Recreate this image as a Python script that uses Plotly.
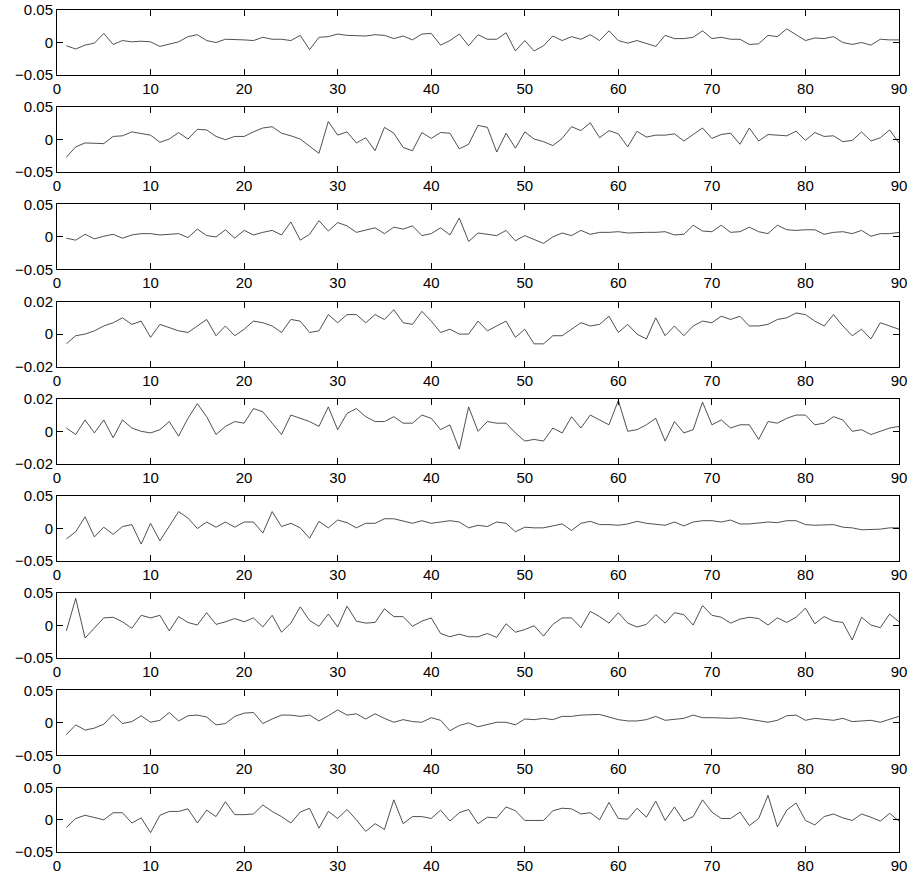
import plotly.graph_objects as go

x_vals = list(range(1, 91))

s1 = [-0.005, -0.01, -0.004, -0.001, 0.014, -0.003, 0.003, 0.001, 0.002, 0.001,
      -0.006, -0.002, 0.001, 0.009, 0.012, 0.003, 0.0, 0.005, 0.005, 0.004,
      0.003, 0.008, 0.005, 0.005, 0.003, 0.011, -0.011, 0.008, 0.009, 0.013,
      0.011, 0.01, 0.01, 0.012, 0.011, 0.006, 0.01, 0.004, 0.013, 0.014,
      -0.004, 0.003, 0.013, -0.005, 0.012, 0.005, 0.005, 0.015, -0.013, 0.003,
      -0.013, -0.005, 0.01, 0.003, 0.009, 0.005, 0.012, 0.003, 0.018, 0.003,
      -0.001, 0.003, -0.002, -0.006, 0.011, 0.006, 0.006, 0.008, 0.018, 0.006,
      0.008, 0.005, 0.005, -0.003, -0.002, 0.011, 0.009, 0.021, 0.012, 0.003,
      0.007, 0.006, 0.009, 0.0, -0.003, 0.0, -0.004, 0.005, 0.004, 0.004]

s2 = [-0.027, -0.011, -0.005, -0.005, -0.006, 0.005, 0.006, 0.012, 0.01, 0.007,
      -0.004, 0.001, 0.011, 0.001, 0.016, 0.015, 0.005, 0.0, 0.005, 0.005,
      0.012, 0.018, 0.02, 0.01, 0.006, 0.001, -0.01, -0.021, 0.028, 0.007,
      0.012, -0.005, 0.003, -0.017, 0.019, 0.01, -0.012, -0.017, 0.011, 0.002,
      0.011, 0.01, -0.014, -0.007, 0.022, 0.019, -0.019, 0.01, -0.013, 0.012,
      0.001, -0.003, -0.009, 0.002, 0.02, 0.014, 0.026, 0.003, 0.014, 0.009,
      -0.011, 0.013, 0.004, 0.007, 0.007, 0.009, -0.002, 0.008, 0.018, 0.002,
      0.008, 0.01, -0.007, 0.018, -0.002, 0.008, 0.007, 0.006, 0.013, -0.001,
      0.011, 0.005, 0.006, -0.003, -0.001, 0.012, -0.002, 0.003, 0.015, -0.005]

s3 = [-0.002, -0.005, 0.004, -0.003, 0.001, 0.004, -0.002, 0.003, 0.005, 0.005,
      0.003, 0.004, 0.005, -0.001, 0.012, 0.002, 0.0, 0.011, -0.002, 0.01,
      0.003, 0.007, 0.01, 0.003, 0.023, -0.005, 0.004, 0.025, 0.009, 0.022,
      0.017, 0.007, 0.01, 0.014, 0.005, 0.015, 0.012, 0.017, 0.002, 0.005,
      0.014, 0.003, 0.029, -0.007, 0.006, 0.004, 0.002, 0.01, -0.006, 0.002,
      -0.004, -0.01, 0.0, 0.006, 0.002, 0.01, 0.004, 0.007, 0.007, 0.008,
      0.006, 0.007, 0.007, 0.007, 0.008, 0.003, 0.004, 0.018, 0.009, 0.008,
      0.018, 0.007, 0.008, 0.015, 0.008, 0.005, 0.018, 0.011, 0.01, 0.011,
      0.011, 0.004, 0.007, 0.008, 0.005, 0.01, 0.001, 0.005, 0.005, 0.007]

s4 = [-0.006, -0.001, 0.0, 0.002, 0.005, 0.007, 0.01, 0.006, 0.008, -0.002,
      0.006, 0.004, 0.002, 0.001, 0.005, 0.009, -0.001, 0.005, -0.001, 0.003,
      0.008, 0.007, 0.005, 0.001, 0.009, 0.008, 0.001, 0.002, 0.012, 0.007,
      0.012, 0.012, 0.007, 0.012, 0.009, 0.015, 0.007, 0.006, 0.014, 0.008,
      0.001, 0.003, 0.0, 0.0, 0.008, 0.002, 0.005, 0.008, -0.002, 0.003,
      -0.006, -0.006, -0.001, -0.001, 0.003, 0.007, 0.005, 0.006, 0.011, 0.001,
      0.006, 0.0, -0.003, 0.01, -0.001, 0.005, -0.001, 0.005, 0.008, 0.007,
      0.011, 0.009, 0.011, 0.005, 0.005, 0.006, 0.009, 0.01, 0.013, 0.012,
      0.008, 0.005, 0.012, 0.005, -0.001, 0.003, -0.003, 0.007, 0.005, 0.003]

s5 = [0.002, -0.002, 0.007, -0.001, 0.007, -0.004, 0.007, 0.002, 0.0, -0.001,
      0.001, 0.006, -0.003, 0.008, 0.017, 0.009, -0.002, 0.003, 0.006, 0.005,
      0.014, 0.012, 0.005, -0.002, 0.01, 0.008, 0.006, 0.003, 0.015, 0.001,
      0.011, 0.014, 0.009, 0.006, 0.006, 0.009, 0.005, 0.005, 0.01, 0.008,
      0.001, 0.004, -0.011, 0.015, 0.0, 0.006, 0.005, 0.005, -0.001, -0.006,
      -0.005, -0.006, 0.002, -0.001, 0.009, 0.002, 0.01, 0.007, 0.004, 0.019,
      0.0, 0.001, 0.004, 0.008, -0.006, 0.006, -0.001, 0.001, 0.018, 0.004,
      0.007, 0.002, 0.004, 0.004, -0.005, 0.006, 0.005, 0.008, 0.01, 0.01,
      0.004, 0.005, 0.009, 0.007, 0.0, 0.001, -0.002, 0.0, 0.002, 0.003]

s6 = [-0.016, -0.005, 0.018, -0.013, 0.002, -0.009, 0.003, 0.006, -0.024, 0.008,
      -0.019, 0.003, 0.026, 0.016, 0.0, 0.01, 0.002, 0.01, 0.002, 0.01,
      0.01, -0.007, 0.026, 0.003, 0.008, 0.001, -0.015, 0.011, 0.001, 0.013,
      0.009, 0.001, 0.008, 0.008, 0.015, 0.015, 0.011, 0.008, 0.012, 0.008,
      0.01, 0.012, 0.01, 0.001, 0.005, 0.003, 0.01, 0.008, -0.005, 0.002,
      0.001, 0.001, 0.004, 0.007, -0.003, 0.008, 0.011, 0.006, 0.006, 0.005,
      0.007, 0.011, 0.008, 0.006, 0.005, 0.01, 0.004, 0.01, 0.012, 0.012,
      0.01, 0.013, 0.007, 0.007, 0.008, 0.01, 0.009, 0.012, 0.012, 0.006,
      0.005, 0.005, 0.006, 0.002, 0.001, -0.002, -0.002, -0.001, 0.001, 0.001]

s7 = [-0.008, 0.042, -0.019, -0.003, 0.012, 0.013, 0.006, -0.004, 0.016, 0.012,
      0.016, -0.008, 0.014, 0.005, 0.001, 0.02, 0.002, 0.006, 0.011, 0.006,
      0.012, -0.002, 0.016, -0.01, 0.004, 0.029, 0.008, -0.001, 0.018, -0.002,
      0.03, 0.007, 0.004, 0.005, 0.026, 0.014, 0.014, -0.001, 0.007, 0.012,
      -0.012, -0.017, -0.013, -0.017, -0.017, -0.012, -0.018, 0.003, -0.01, -0.006,
      0.0, -0.016, 0.002, 0.012, 0.012, -0.003, 0.022, 0.014, 0.004, 0.02,
      0.004, -0.002, 0.002, 0.017, 0.004, 0.02, 0.017, 0.001, 0.031, 0.016,
      0.013, 0.004, 0.01, 0.013, 0.011, 0.001, 0.012, 0.005, 0.013, 0.027,
      0.003, 0.014, 0.007, 0.005, -0.022, 0.013, 0.001, -0.003, 0.018, 0.006]

s8 = [-0.018, -0.003, -0.011, -0.008, -0.002, 0.013, -0.001, 0.002, 0.011, 0.001,
      0.004, 0.016, 0.003, 0.011, 0.012, 0.009, -0.003, -0.001, 0.01, 0.015,
      0.016, -0.001, 0.006, 0.012, 0.012, 0.01, 0.012, 0.003, 0.011, 0.02,
      0.012, 0.014, 0.006, 0.014, 0.007, 0.001, 0.005, 0.002, 0.001, 0.008,
      0.004, -0.012, -0.004, 0.0, -0.006, -0.002, 0.001, 0.001, -0.003, 0.006,
      0.005, 0.007, 0.005, 0.01, 0.01, 0.012, 0.012, 0.013, 0.009, 0.005,
      0.003, 0.003, 0.005, 0.01, 0.004, 0.005, 0.007, 0.012, 0.008, 0.008,
      0.007, 0.007, 0.008, 0.006, 0.004, 0.001, 0.004, 0.011, 0.012, 0.004,
      0.007, 0.006, 0.004, 0.007, 0.002, 0.003, 0.004, 0.001, 0.005, 0.01]

s9 = [-0.012, 0.002, 0.007, 0.004, 0.0, 0.011, 0.011, -0.005, 0.003, -0.02,
      0.007, 0.013, 0.013, 0.017, -0.005, 0.015, 0.005, 0.028, 0.008, 0.008,
      0.009, 0.023, 0.013, 0.005, -0.005, 0.012, 0.018, -0.013, 0.013, 0.002,
      0.016, 0.0, -0.018, -0.006, -0.015, 0.031, -0.006, 0.005, 0.005, 0.002,
      0.015, -0.002, 0.011, 0.016, -0.006, 0.004, 0.003, 0.02, 0.014, -0.001,
      -0.001, -0.001, 0.014, 0.018, 0.017, 0.009, 0.011, 0.0, 0.027, 0.002,
      0.001, 0.018, 0.004, 0.029, -0.001, 0.02, -0.002, 0.005, 0.031, 0.012,
      0.002, 0.002, 0.012, -0.009, 0.002, 0.038, -0.011, 0.015, 0.026, -0.001,
      -0.008, 0.005, 0.009, 0.003, -0.001, 0.009, 0.004, -0.002, 0.01, -0.002]

series = [s1, s2, s3, s4, s5, s6, s7, s8, s9]
y_limits = [0.05, 0.05, 0.05, 0.02, 0.02, 0.05, 0.05, 0.05, 0.05]
y_ticktext = {0.05: ["\u22120.05", "0", "0.05"], 0.02: ["\u22120.02", "0", "0.02"]}
x_ticks = [0, 10, 20, 30, 40, 50, 60, 70, 80, 90]
x_ticktext = [str(t) for t in x_ticks]

W, H = 912, 885
m_top, m_bot, m_left, m_right = 10, 33, 57, 13
plot_h = H - m_top - m_bot
panel_h = 65
step = 97.2

fig = go.Figure()
layout_axes = {}
font = dict(family="Liberation Sans, Arial, Helvetica, sans-serif", size=15, color="black")

for i, (s, lim) in enumerate(zip(series, y_limits)):
    k = i + 1
    sfx = "" if k == 1 else str(k)
    top_px = m_top + step * i
    bot_px = top_px + panel_h
    y0 = (H - m_bot - bot_px) / plot_h
    y1 = (H - m_bot - top_px) / plot_h
    fig.add_trace(go.Scatter(
        x=x_vals, y=s, mode="lines",
        line=dict(color="#3c3c3c", width=0.9),
        xaxis="x" + sfx, yaxis="y" + sfx, showlegend=False, hoverinfo="skip"))
    layout_axes["xaxis" + sfx] = dict(
        domain=[0, 1], anchor="y" + sfx, range=[0, 90], automargin=False,
        tickvals=x_ticks, ticktext=x_ticktext,
        ticks="inside", ticklen=6, tickwidth=1, tickcolor="black",
        showline=True, linecolor="black", linewidth=1, mirror="ticks",
        showgrid=False, zeroline=False, tickfont=font, fixedrange=True)
    layout_axes["yaxis" + sfx] = dict(
        domain=[max(0.0, y0), min(1.0, y1)], anchor="x" + sfx, range=[-lim, lim],
        automargin=False,
        tickvals=[-lim, 0, lim], ticktext=y_ticktext[lim],
        ticks="inside", ticklen=6, tickwidth=1, tickcolor="black",
        showline=True, linecolor="black", linewidth=1, mirror="ticks",
        showgrid=False, zeroline=False, tickfont=font, fixedrange=True)

fig.update_layout(
    width=W, height=H,
    margin=dict(l=m_left, r=m_right, t=m_top, b=m_bot, pad=0, autoexpand=False),
    paper_bgcolor="white", plot_bgcolor="white",
    font=font, showlegend=False,
    **layout_axes)

fig.write_html(
    "out.html",
    config={"displayModeBar": False},
    post_script="document.body.style.margin='0';document.body.style.overflow='hidden';",
)
